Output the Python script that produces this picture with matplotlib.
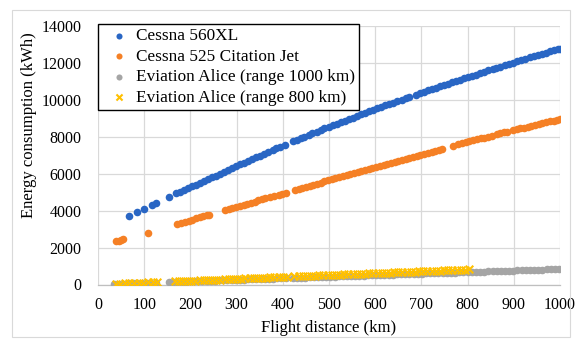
import matplotlib
matplotlib.use("Agg")
import matplotlib.pyplot as plt
from matplotlib.patches import Rectangle

# ---------------- data ----------------
dist_560xl = [67, 84, 100, 117, 126, 154, 169, 178, 186, 195, 204, 212, 220, 229, 238, 246, 255, 264, 272, 281,
              290, 299, 308, 316, 325, 334, 342, 351, 360, 369, 378, 386, 395, 404, 422, 430, 439, 446, 456, 464,
              473, 482, 490, 499, 508, 517, 526, 534, 543, 552, 560, 569, 578, 587, 596, 604, 613, 622, 630, 639,
              648, 657, 666, 674, 688, 696, 705, 714, 722, 731, 740, 748, 757, 766, 775, 784, 792, 801, 810, 818,
              827, 836, 845, 854, 862, 871, 880, 889, 898, 906, 915, 924, 936, 944, 953, 962, 970, 979, 988, 996, 1000]
energy_560xl = [3730, 3945, 4090, 4310, 4430, 4730, 4930, 5030, 5120, 5220, 5320, 5410, 5500, 5600, 5710, 5800, 5900, 6010, 6100, 6200,
                6310, 6410, 6510, 6600, 6700, 6790, 6880, 6980, 7080, 7180, 7280, 7370, 7470, 7560, 7750, 7830, 7920, 7990, 8100, 8180,
                8270, 8370, 8450, 8540, 8630, 8710, 8800, 8870, 8960, 9040, 9120, 9210, 9290, 9380, 9460, 9540, 9620, 9700, 9770, 9850,
                9930, 10010, 10090, 10170, 10290, 10360, 10440, 10520, 10580, 10660, 10730, 10800, 10870, 10950, 11020, 11100, 11160, 11240, 11310, 11370,
                11450, 11520, 11590, 11660, 11730, 11800, 11870, 11940, 12010, 12080, 12140, 12210, 12300, 12360, 12430, 12500, 12560, 12620, 12690, 12750, 12780]

dist_525 = [40, 45, 50, 55, 109, 172, 180, 188, 196, 204, 212, 220, 228, 236, 240,
            275, 283, 291, 299, 307, 315, 323, 331, 339, 347, 355, 362, 372, 380, 391, 399, 407,
            426, 434, 442, 450, 458, 466, 474, 482, 490, 498, 506, 514, 522, 530, 538, 546, 554, 562,
            570, 578, 586, 594, 602, 610, 618, 626, 634, 642, 650, 658, 666, 674, 682, 690, 698, 706,
            714, 722, 730, 738, 745, 768, 780, 788, 796, 804, 812, 820, 828, 836, 844, 852, 863, 871,
            879, 885, 898, 906, 914, 922, 930, 938, 946, 954, 962, 970, 978, 986, 994, 1000]
energy_525 = [2330, 2370, 2410, 2460, 2810, 3280, 3340, 3400, 3455, 3515, 3575, 3630, 3690, 3750, 3775,
              4030, 4090, 4145, 4200, 4260, 4320, 4380, 4430, 4490, 4550, 4610, 4660, 4730, 4790, 4870, 4920, 4980,
              5115, 5170, 5230, 5290, 5350, 5400, 5460, 5520, 5580, 5640, 5690, 5750, 5800, 5860, 5920, 5970, 6030, 6080,
              6140, 6200, 6250, 6310, 6360, 6420, 6480, 6530, 6590, 6640, 6700, 6760, 6810, 6870, 6920, 6980, 7040, 7090,
              7145, 7200, 7250, 7310, 7360, 7510, 7590, 7650, 7700, 7760, 7810, 7860, 7910, 7960, 8010, 8060, 8130, 8180,
              8240, 8270, 8360, 8410, 8450, 8500, 8550, 8600, 8640, 8690, 8740, 8780, 8830, 8880, 8930, 8970]

dist_alice_1000 = [35, 45, 55, 65, 75, 85, 95, 105, 115, 125, 154,
                   163, 172, 181, 190, 199, 208, 217, 226, 235, 244, 253, 262, 271, 280, 289, 298, 307, 316, 325, 334,
                   343, 352, 361, 370, 379, 388, 397, 406, 422, 431, 440, 449, 458, 467, 476, 485, 494, 503, 512, 521,
                   530, 539, 548, 557, 566, 575, 584, 593, 602, 611, 620, 629, 638, 647, 656, 665, 674, 683, 692, 701,
                   710, 719, 728, 737, 746, 755, 764, 773, 782, 791, 800, 809, 818, 827, 836, 845, 854, 863, 872, 881,
                   890, 899, 908, 917, 926, 935, 944, 953, 962, 971, 980, 989, 998]
energy_alice_1000 = [29, 38, 46, 55, 63, 71, 80, 88, 97, 105, 129,
                     137, 144, 152, 160, 167, 175, 182, 190, 197, 205, 213, 220, 228, 235, 243, 250, 258, 265, 273, 281,
                     288, 296, 303, 311, 318, 326, 333, 341, 354, 362, 370, 377, 385, 392, 400, 407, 415, 423, 430, 438,
                     445, 453, 460, 468, 475, 483, 491, 498, 506, 513, 521, 528, 536, 543, 551, 559, 566, 574, 581, 589,
                     596, 604, 612, 619, 627, 634, 642, 649, 657, 664, 672, 680, 687, 695, 702, 710, 717, 725, 732, 740,
                     748, 755, 763, 770, 778, 785, 793, 801, 808, 816, 823, 831, 838]

dist_alice_800 = [38, 48, 58, 68, 78, 88, 98, 108, 118, 128,
                  166, 175, 184, 193, 202, 211, 220, 229, 238, 247, 256, 265, 274, 283, 292, 301, 310, 319, 328, 337,
                  346, 355, 364, 373, 382, 391, 400, 409, 425, 434, 443, 452, 461, 470, 479, 488, 497, 506, 515, 524,
                  533, 542, 551, 560, 569, 578, 587, 596, 605, 614, 623, 632, 641, 650, 659, 668, 677, 686, 695, 704,
                  713, 722, 731, 740, 749, 758, 767, 776, 785, 794, 803]
energy_alice_800 = [39, 49, 59, 69, 80, 90, 100, 110, 120, 131,
                    169, 179, 188, 197, 206, 215, 224, 234, 243, 252, 261, 270, 279, 289, 298, 307, 316, 325, 335, 344,
                    353, 362, 371, 380, 390, 399, 408, 417, 434, 443, 452, 461, 470, 479, 489, 498, 507, 516, 525, 534,
                    544, 553, 562, 571, 580, 590, 599, 608, 617, 626, 635, 645, 654, 663, 672, 681, 691, 700, 709, 718,
                    727, 736, 746, 755, 764, 773, 782, 792, 801, 810, 819]

labels = ["Cessna 560XL", "Cessna 525 Citation Jet",
          "Eviation Alice (range 1000 km)", "Eviation Alice (range 800 km)"]
x_ticks = [0, 100, 200, 300, 400, 500, 600, 700, 800, 900, 1000]
y_ticks = [0, 2000, 4000, 6000, 8000, 10000, 12000, 14000]

# ---------------- figure ----------------
W, H = 575, 340
fig = plt.figure(figsize=(W / 100, H / 100), dpi=100)
fig.patch.set_facecolor("white")
fig.patches.append(Rectangle((12 / W, 1 - 337 / H), (570 - 12) / W, (337 - 10) / H,
                             transform=fig.transFigure, fill=False, edgecolor="#D9D9D9", lw=0.8))

ax = fig.add_axes([98 / W, 1 - 284.5 / H, (560 - 98) / W, (284.5 - 26) / H])
serif = ["Liberation Serif", "DejaVu Serif"]

ax.scatter(dist_560xl, energy_560xl, s=30, color="#2966C4", linewidths=0, label=labels[0], zorder=3)
ax.scatter(dist_525, energy_525, s=30, color="#F58025", linewidths=0, label=labels[1], zorder=3)
ax.scatter(dist_alice_1000, energy_alice_1000, s=30, color="#A5A5A5", linewidths=0, label=labels[2], zorder=3)
ax.scatter(dist_alice_800, energy_alice_800, s=30, marker="x", color="#FFC000", linewidths=1.5,
           label=labels[3], zorder=4)

ax.set_xlim(0, 1000)
ax.set_ylim(0, 14000)
ax.set_xticks(x_ticks)
ax.set_yticks(y_ticks)
ax.set_xticklabels([str(v) for v in x_ticks], fontfamily=serif, fontsize=11.5)
ax.set_yticklabels([str(v) for v in y_ticks], fontfamily=serif, fontsize=11.5)
ax.tick_params(axis="both", length=0)
ax.tick_params(axis="x", pad=9)
ax.tick_params(axis="y", pad=12)
ax.grid(True, color="#D9D9D9", lw=0.9, zorder=0)
ax.set_axisbelow(True)
for sp in ["top", "right", "left"]:
    ax.spines[sp].set_visible(False)
ax.spines["bottom"].set_color("#BFBFBF")
ax.spines["bottom"].set_linewidth(0.9)

fig.text(328.5 / W, 1 - 328 / H, "Flight distance (km)", ha="center", va="center",
         fontfamily=serif, fontsize=12)
fig.text(29 / W, 1 - 125 / H, "Energy consumption (kWh)", ha="center", va="center",
         rotation=90, fontfamily=serif, fontsize=12)

leg = ax.legend(loc="upper left", bbox_to_anchor=(98 / W, 1 - 24 / H), bbox_transform=fig.transFigure,
                frameon=True, fancybox=False, edgecolor="black", framealpha=1, borderaxespad=0,
                prop={"family": serif, "size": 12.4}, handletextpad=0.05, labelspacing=0.26,
                borderpad=0.25, handlelength=1.9, markerscale=0.8)
leg.get_frame().set_linewidth(1.0)
leg.set_zorder(10)

fig.savefig("out.png", dpi=100)
